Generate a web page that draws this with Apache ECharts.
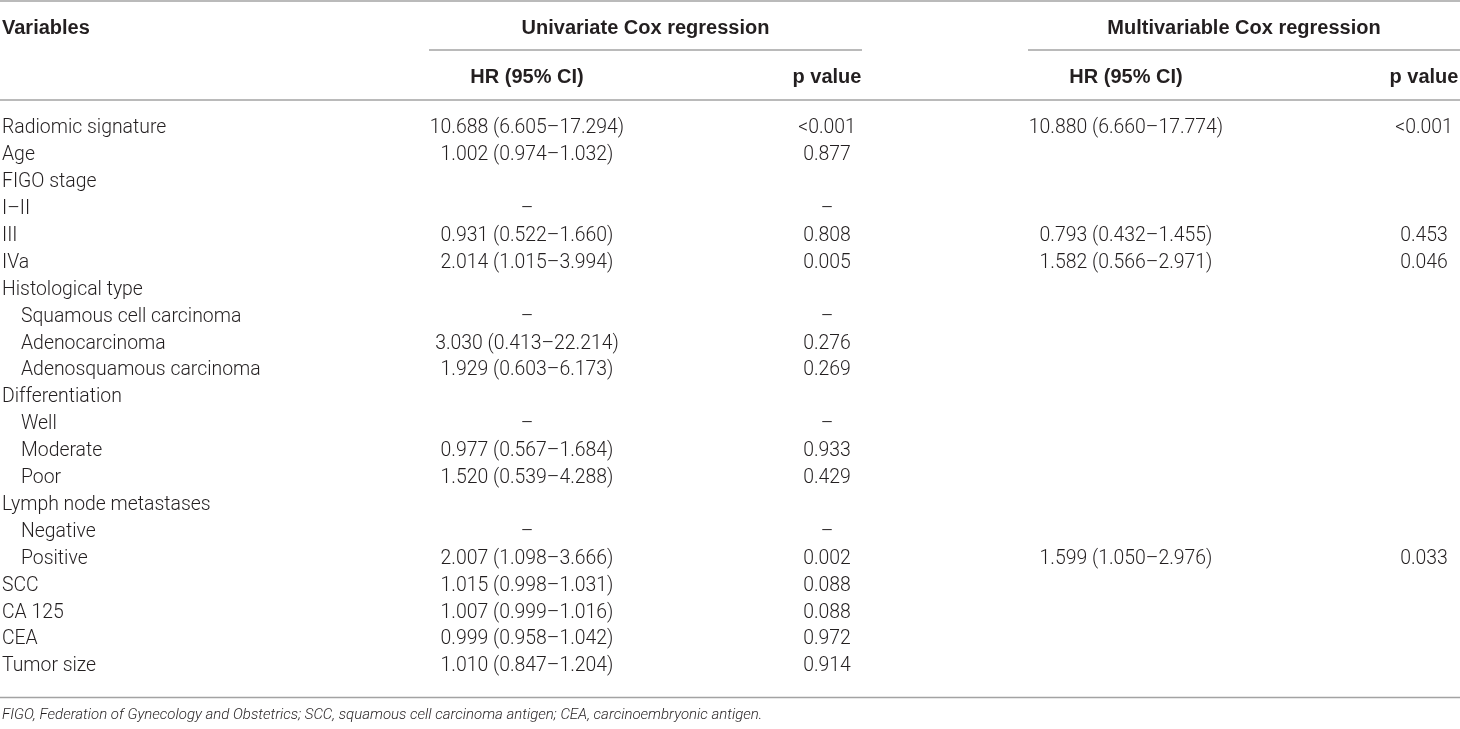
<!DOCTYPE html>
<html>
<head>
<meta charset="utf-8">
<script src="https://cdn.jsdelivr.net/npm/echarts@6/dist/echarts.min.js"></script>
<style>
  html, body { margin: 0; padding: 0; background: #fff; }
  #main { width: 1460px; height: 729px; }
</style>
</head>
<body>
<div id="main"></div>
<script>
// table rows
const variables = ['Radiomic signature', 'Age', 'FIGO stage', 'I\u2013II', 'III', 'IVa', 'Histological type',
  'Squamous cell carcinoma', 'Adenocarcinoma', 'Adenosquamous carcinoma', 'Differentiation', 'Well',
  'Moderate', 'Poor', 'Lymph node metastases', 'Negative', 'Positive', 'SCC', 'CA 125', 'CEA', 'Tumor size'];
const levels = [0, 0, 0, 0, 0, 0, 0, 1, 1, 1, 0, 1, 1, 1, 0, 1, 1, 0, 0, 0, 0];

const uniHR = ['10.688 (6.605\u201317.294)', '1.002 (0.974\u20131.032)', '', '\u2013', '0.931 (0.522\u20131.660)',
  '2.014 (1.015\u20133.994)', '', '\u2013', '3.030 (0.413\u201322.214)', '1.929 (0.603\u20136.173)', '', '\u2013',
  '0.977 (0.567\u20131.684)', '1.520 (0.539\u20134.288)', '', '\u2013', '2.007 (1.098\u20133.666)',
  '1.015 (0.998\u20131.031)', '1.007 (0.999\u20131.016)', '0.999 (0.958\u20131.042)', '1.010 (0.847\u20131.204)'];
const uniP = ['<0.001', '0.877', '', '\u2013', '0.808', '0.005', '', '\u2013', '0.276', '0.269', '', '\u2013',
  '0.933', '0.429', '', '\u2013', '0.002', '0.088', '0.088', '0.972', '0.914'];
const mulHR = ['10.880 (6.660\u201317.774)', '', '', '', '0.793 (0.432\u20131.455)', '1.582 (0.566\u20132.971)',
  '', '', '', '', '', '', '', '', '', '', '1.599 (1.050\u20132.976)', '', '', '', ''];
const mulP = ['<0.001', '', '', '', '0.453', '0.046', '', '', '', '', '', '', '', '', '', '', '0.033', '', '', '', ''];

const groupTitles = ['Univariate Cox regression', 'Multivariable Cox regression'];
const colTitles = ['HR (95% CI)', 'p value'];
const footnote = 'FIGO, Federation of Gynecology and Obstetrics; SCC, squamous cell carcinoma antigen; CEA, carcinoembryonic antigen.';

// layout (pixels)
const W = 1460;
const colX = { label: 2, uniHR: 527, uniP: 827, mulHR: 1126, mulP: 1424 };
const indentW = 19;
const rowH = 26.9;
const firstRowY = 128.5;

const txtColor = '#231f20';
const ruleColor = '#a3a3a3';
const bodyFont = { fontFamily: 'Roboto', fontWeight: 300, fontSize: 19.4 };
const headFont = { fontFamily: 'Liberation Sans', fontWeight: 'bold', fontSize: 20 };

function cellSeries(texts, xOf, align) {
  return {
    type: 'custom',
    coordinateSystem: 'cartesian2d',
    silent: true,
    data: texts.map((t, i) => [xOf(i), i]),
    encode: { x: 0, y: 1 },
    renderItem: function (params, api) {
      const p = api.coord([api.value(0), api.value(1)]);
      return {
        type: 'text',
        x: p[0],
        y: p[1],
        style: Object.assign({
          text: texts[params.dataIndex],
          fill: txtColor,
          align: align,
          verticalAlign: 'middle'
        }, bodyFont)
      };
    }
  };
}

function rule(x1, x2, y) {
  return { type: 'line', silent: true, shape: { x1: x1, y1: y, x2: x2, y2: y },
    style: { stroke: ruleColor, lineWidth: 1.5 } };
}
function head(text, x, y, align) {
  return { type: 'text', silent: true, x: x, y: y,
    style: Object.assign({ text: text, fill: txtColor, align: align, verticalAlign: 'middle' }, headFont) };
}

const chart = echarts.init(document.getElementById('main'));
chart.setOption({
  animation: false,
  grid: { left: 0, right: 0, top: firstRowY - rowH / 2, height: rowH * variables.length },
  xAxis: { type: 'value', min: 0, max: W, show: false },
  yAxis: { type: 'category', data: variables, inverse: true, show: false },
  series: [
    cellSeries(variables, i => colX.label + levels[i] * indentW, 'left'),
    cellSeries(uniHR, () => colX.uniHR, 'center'),
    cellSeries(uniP, () => colX.uniP, 'center'),
    cellSeries(mulHR, () => colX.mulHR, 'center'),
    cellSeries(mulP, () => colX.mulP, 'center')
  ],
  graphic: [
    rule(0, W, 1),
    rule(429, 862, 50),
    rule(1028, W, 50),
    rule(0, W, 100),
    rule(0, W, 697.5),
    head('Variables', 2, 28.5, 'left'),
    head(groupTitles[0], 645.5, 28.5, 'center'),
    head(groupTitles[1], 1244, 28.5, 'center'),
    head(colTitles[0], colX.uniHR, 77.5, 'center'),
    head(colTitles[1], colX.uniP, 77.5, 'center'),
    head(colTitles[0], colX.mulHR, 77.5, 'center'),
    head(colTitles[1], colX.mulP, 77.5, 'center'),
    { type: 'text', silent: true, x: 2, y: 715,
      style: { text: footnote, fill: txtColor, fontFamily: 'Roboto', fontWeight: 300, fontStyle: 'italic',
        fontSize: 15, verticalAlign: 'middle' } }
  ]
});
</script>
</body>
</html>
